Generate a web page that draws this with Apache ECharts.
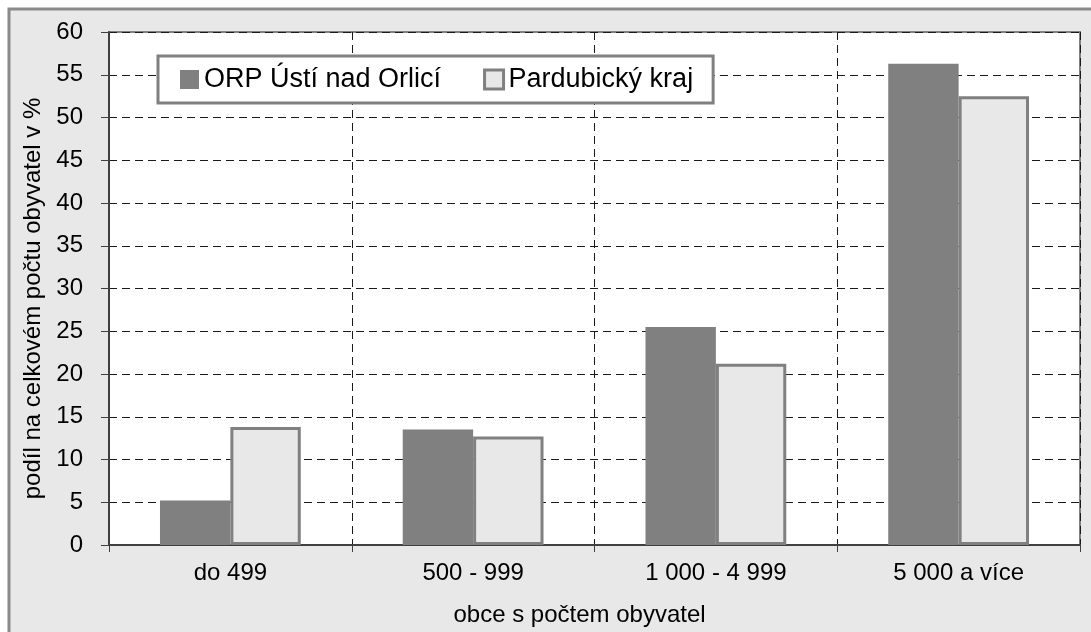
<!DOCTYPE html>
<html>
<head>
<meta charset="utf-8">
<script src="https://cdn.jsdelivr.net/npm/echarts@6/dist/echarts.min.js"></script>
<style>
  html, body { margin: 0; padding: 0; background: #fff; }
  #chart { width: 1091px; height: 632px; }
</style>
</head>
<body>
<div id="chart"></div>
<script>
// podíl obyvatel podle velikosti obce
const categories = ['do 499', '500 - 999', '1 000 - 4 999', '5 000 a více'];
const orpValues = [5.2, 13.5, 25.5, 56.3];
const krajValues = [13.8, 12.7, 21.2, 52.5];
const seriesNames = ['ORP Ústí nad Orlicí', 'Pardubický kraj'];

const FONT = 'Liberation Sans';
const DARK = '#808080';
const LIGHT = '#e8e8e8';
const dash = { color: '#1a1a1a', width: 1, type: [8, 5] };

const chart = echarts.init(document.getElementById('chart'));
chart.setOption({
  animation: false,
  textStyle: { fontFamily: FONT, color: '#000' },
  graphic: [{
    type: 'rect', z: -10,
    shape: { x: 9, y: 9, width: 1100, height: 700 },
    style: { fill: LIGHT, stroke: '#8a8a8a', lineWidth: 3 }
  }],
  grid: {
    left: 109, right: 11, top: 32, bottom: 87,
    show: true, backgroundColor: '#fff', borderColor: '#808080', borderWidth: 2
  },
  legend: {
    left: 158, top: 56,
    orient: 'horizontal',
    backgroundColor: '#fff', borderColor: '#808080', borderWidth: 3,
    padding: [10, 20, 10, 22],
    itemGap: 42, itemWidth: 19, itemHeight: 19,
    textStyle: { fontFamily: FONT, fontSize: 27, color: '#000' },
    data: [
      { name: seriesNames[0], icon: 'rect', itemStyle: { color: DARK, borderWidth: 0 } },
      { name: seriesNames[1], icon: 'rect', itemStyle: { color: LIGHT, borderColor: DARK, borderWidth: 3 } }
    ]
  },
  xAxis: {
    type: 'category', data: categories,
    name: 'obce s počtem obyvatel', nameLocation: 'middle', nameGap: 58,
    nameTextStyle: { fontFamily: FONT, fontSize: 24, color: '#000', padding: [0, 30, 0, 0] },
    axisLine: { lineStyle: { color: '#404040', width: 2 } },
    axisTick: { show: true, length: 7, lineStyle: { color: '#404040', width: 1 } },
    axisLabel: { fontFamily: FONT, fontSize: 24, color: '#000', margin: 16 },
    splitLine: { show: true, lineStyle: dash }
  },
  yAxis: {
    type: 'value', min: 0, max: 60, interval: 5,
    name: 'podíl na celkovém počtu obyvatel v %', nameLocation: 'middle', nameGap: 64, nameRotate: 90,
    nameTextStyle: { fontFamily: FONT, fontSize: 24, color: '#000', padding: [0, 20, 0, 0] },
    axisLine: { show: true, lineStyle: { color: '#404040', width: 2 } },
    axisTick: { show: true, length: 8, lineStyle: { color: '#404040', width: 1 } },
    axisLabel: { fontFamily: FONT, fontSize: 24, color: '#000', margin: 26 },
    splitLine: { show: true, lineStyle: dash }
  },
  series: [
    {
      name: seriesNames[0], type: 'bar', data: orpValues,
      barGap: '0%', barCategoryGap: '42%',
      itemStyle: { color: DARK }
    },
    {
      name: seriesNames[1], type: 'bar', data: krajValues,
      barGap: '0%', barCategoryGap: '42%',
      itemStyle: { color: LIGHT, borderColor: DARK, borderWidth: 3 }
    }
  ]
});
</script>
</body>
</html>
